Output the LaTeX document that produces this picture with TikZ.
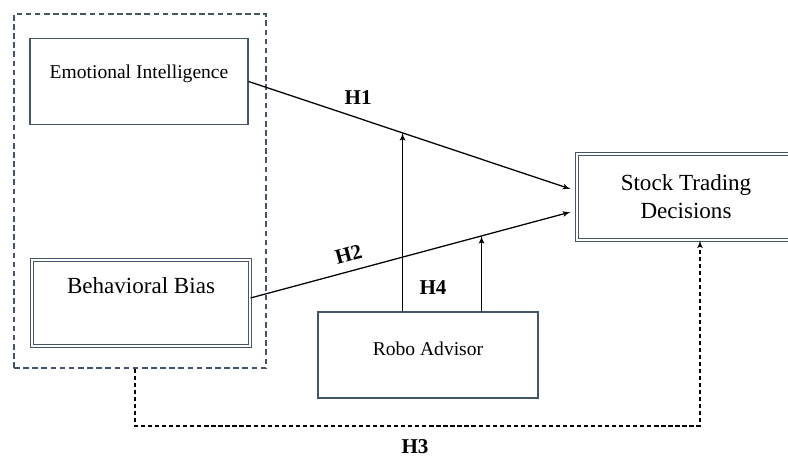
\documentclass[tikz,border=0pt]{standalone}
\usepackage{fontspec}
\setmainfont{Liberation Serif}
\usetikzlibrary{arrows, positioning, shapes, calc}
\definecolor{boxline}{RGB}{68,84,106}

\begin{document}
\begin{tikzpicture}[x=0.025cm, y=0.025cm]
\tikzstyle{block} = [rectangle, draw=boxline, line width=1pt, minimum width=5.45cm,
    minimum height=2.15cm, inner sep=0pt]
\tikzstyle{dblock} = [block, double, double distance=1.3pt, line width=0.6pt]
\tikzstyle{line} = [draw, line width=0.9pt, -latex']
\tikzstyle{hyp} = [font=\fontsize{15}{17}\selectfont\bfseries]
    \useasboundingbox (0,0) rectangle (788,461);
    \clip (0,0) rectangle (788,461);
    % Place nodes
    \node [draw=boxline, line width=1pt, dash pattern=on 4pt off 2.5pt,
        minimum width=6.3cm, minimum height=8.85cm, inner sep=0pt] (group) at (140,270) {};
    \node [block] (emotion) at (139,379.5) {};
    \node [font=\fontsize{13.9}{16}\selectfont] at ($(emotion.north)+(0,-36)$) {Emotional Intelligence};
    \node [dblock] (bias) at (141,158) {};
    \node [font=\fontsize{16.4}{18}\selectfont] at ($(bias.north)+(0,-26)$) {Behavioral Bias};
    \node [dblock, align=center, font=\fontsize{16.4}{20}\selectfont] (stock) at (686,264) {Stock Trading\\Decisions};
    \node [block, minimum width=5.5cm] (robo) at (428,106) {};
    \node [font=\fontsize{13.9}{16}\selectfont] at ($(robo.north)+(0,-38)$) {Robo Advisor};

%paths
    \coordinate (h1end) at ($(stock.west)+(-6,8)$);
    \coordinate (h2start) at ($(bias.east)+(0,5)$);
    \coordinate (h2end) at ($(stock.west)+(-6,-15)$);
    \path [line] (emotion.east) -- (h1end) node [hyp, pos=0.34, above=6pt] {H1};
    \path [line] (h2start) -- (h2end) node [hyp, pos=0.32, above=3pt, sloped] {H2};
    \coordinate (m1) at ($(emotion.east)!0.478!(h1end)$);
    \coordinate (m2) at ($(h2start)!0.722!(h2end)$);
    \path [line] (m1 |- robo.north) -- (m1);
    \path [line] (m2 |- robo.north) -- (m2);
    \node [hyp] (h4) at (433,173) {H4};

    \coordinate (h3left) at (135,35);
    \coordinate (h3right) at (700,35);
    \path [line, dash pattern=on 3pt off 2pt] (h3left |- group.south) -- (h3left)
        -- (h3right) -- (h3right |- stock.south);
    \node [hyp] (h3) at (415,14) {H3};

\end{tikzpicture}
\end{document}
